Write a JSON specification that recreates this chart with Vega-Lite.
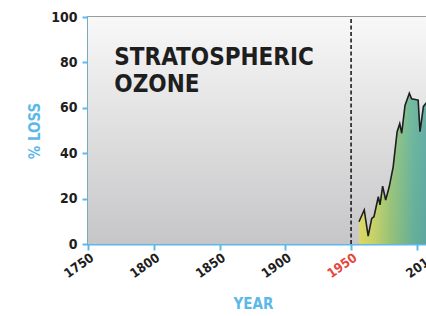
{
  "$schema": "https://vega.github.io/schema/vega-lite/v6.json",
  "width": 342,
  "height": 227,
  "autosize": {"type": "none"},
  "padding": {"left": 88, "top": 17, "right": 0, "bottom": 72},
  "background": "#ffffff",
  "config": {
    "view": {"stroke": "#9a9a9a", "strokeWidth": 2},
    "font": "DejaVu Sans Condensed, Roboto, sans-serif",
    "axis": {
      "domainColor": "#5bb8e8",
      "domainWidth": 2,
      "tickColor": "#5bb8e8",
      "tickWidth": 2,
      "tickSize": 6,
      "grid": false,
      "labelFont": "DejaVu Sans Condensed, Roboto, sans-serif",
      "labelFontWeight": "bold",
      "labelFontSize": 14,
      "labelColor": "#1e1e1e",
      "titleFont": "DejaVu Sans Condensed, Roboto, sans-serif",
      "titleFontWeight": "bold",
      "titleFontSize": 15,
      "titleColor": "#5bb8e8"
    }
  },
  "data": {"values": [{"item": "frame"}]},
  "datasets": {
    "ozone": [
      {"year": 1956, "loss": 9.8},
      {"year": 1960, "loss": 15},
      {"year": 1963, "loss": 3.5},
      {"year": 1965.7, "loss": 11.3},
      {"year": 1967.4, "loss": 12},
      {"year": 1970.7, "loss": 20.8},
      {"year": 1972, "loss": 17.2},
      {"year": 1974, "loss": 25.5},
      {"year": 1976.3, "loss": 19.4},
      {"year": 1979, "loss": 25.2},
      {"year": 1982, "loss": 34},
      {"year": 1985, "loss": 49.5},
      {"year": 1987, "loss": 53},
      {"year": 1988.5, "loss": 48.8},
      {"year": 1991, "loss": 61},
      {"year": 1994.3, "loss": 66.4},
      {"year": 1996, "loss": 64},
      {"year": 2001, "loss": 63.4},
      {"year": 2002.4, "loss": 49.5},
      {"year": 2005, "loss": 60.6},
      {"year": 2007, "loss": 62},
      {"year": 2010, "loss": 60}
    ],
    "label": [
      {"year": 1770, "value": 79, "text": "STRATOSPHERIC\nOZONE"}
    ]
  },
  "layer": [
    {
      "mark": {
        "type": "rect",
        "color": {
          "gradient": "linear",
          "x1": 0, "y1": 0, "x2": 0, "y2": 1,
          "stops": [
            {"offset": 0, "color": "#f8f8f8"},
            {"offset": 1, "color": "#c6c6c8"}
          ]
        }
      },
      "encoding": {
        "x": {"datum": 1750, "type": "quantitative", "scale": {"domain": [1750, 2010]}},
        "x2": {"datum": 2010},
        "y": {"datum": 0, "type": "quantitative", "scale": {"domain": [0, 100]}},
        "y2": {"datum": 100}
      }
    },
    {
      "data": {"name": "ozone"},
      "mark": {
        "type": "area",
        "color": {
          "gradient": "linear",
          "x1": 0, "y1": 0, "x2": 1, "y2": 0,
          "stops": [
            {"offset": 0, "color": "#e4e03a"},
            {"offset": 0.2, "color": "#c6d640"},
            {"offset": 0.45, "color": "#82be55"},
            {"offset": 0.75, "color": "#40a682"},
            {"offset": 1, "color": "#2a9590"}
          ]
        },
        "line": {"color": "#1e1e1e", "strokeWidth": 1.6}
      },
      "encoding": {
        "x": {
          "field": "year",
          "type": "quantitative",
          "scale": {"domain": [1750, 2010], "nice": false},
          "axis": {
            "title": "YEAR",
            "values": [1750, 1800, 1850, 1900, 1950, 2000, 2010],
            "format": "d",
            "labelExpr": "datum.value == 2000 ? '' : datum.label",
            "labelAngle": -35,
            "labelAlign": "right",
            "labelBaseline": "middle",
            "labelFontSize": 13,
            "labelPadding": 6,
            "labelOffset": 4,
            "labelColor": {"condition": {"test": "datum.value == 1950", "value": "#e8463c"}, "value": "#1e1e1e"},
            "titleY": 52,
            "titleX": 165,
            "labelOverlap": false,
            "labelFlush": false
          }
        },
        "y": {
          "field": "loss",
          "type": "quantitative",
          "scale": {"domain": [0, 100], "nice": false},
          "axis": {
            "title": "% LOSS",
            "values": [0, 20, 40, 60, 80, 100],
            "labelPadding": 5,
            "titleX": -46
          }
        }
      }
    },
    {
      "mark": {"type": "rule", "color": "#1e1e1e", "strokeWidth": 1.6, "strokeDash": [4, 2.5]},
      "encoding": {
        "x": {"datum": 1950, "type": "quantitative"},
        "y": {"datum": 0, "type": "quantitative"},
        "y2": {"datum": 100}
      }
    },
    {
      "data": {"name": "label"},
      "mark": {
        "type": "text",
        "align": "left",
        "baseline": "alphabetic",
        "font": "DejaVu Sans Condensed, Roboto, sans-serif",
        "fontWeight": "bold",
        "fontSize": 24,
        "lineHeight": 27,
        "color": "#1e1e1e",
        "lineBreak": "\n"
      },
      "encoding": {
        "x": {"field": "year", "type": "quantitative"},
        "y": {"field": "value", "type": "quantitative"},
        "text": {"field": "text"}
      }
    }
  ]
}
